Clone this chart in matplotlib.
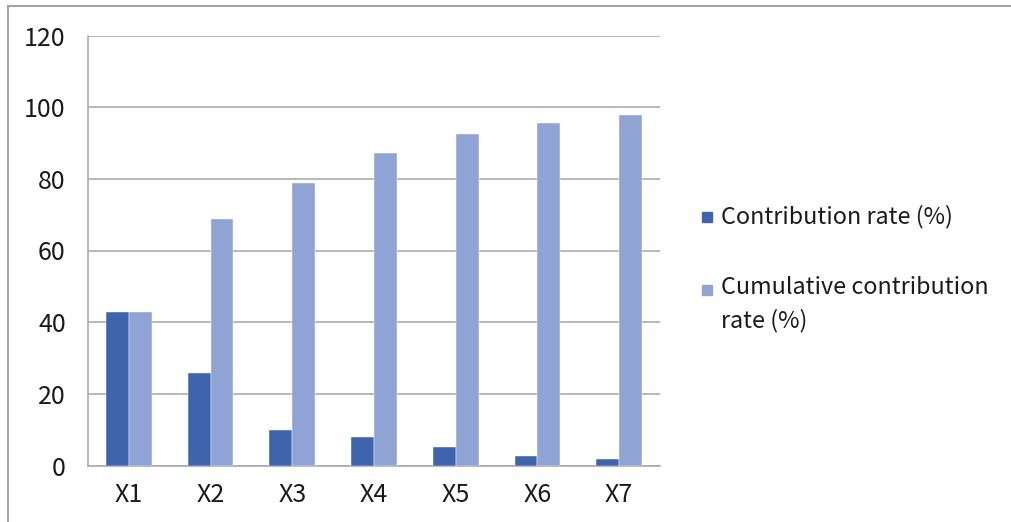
import matplotlib
matplotlib.use("Agg")
import matplotlib.pyplot as plt
from matplotlib.patches import Rectangle
from matplotlib.lines import Line2D
import numpy as np

plt.rcParams['font.family'] = ['Noto Sans CJK SC', 'DejaVu Sans']

categories = ["X1", "X2", "X3", "X4", "X5", "X6", "X7"]
contribution = [42.8, 25.7, 9.8, 7.9, 5.1, 2.7, 1.7]
cumulative = [42.8, 68.8, 78.8, 87.1, 92.4, 95.5, 97.7]
series_names = ["Contribution rate (%)", "Cumulative contribution\nrate (%)"]
yticks = [0, 20, 40, 60, 80, 100, 120]

DARK = "#3E64AD"
LIGHT = "#8FA4D5"
GRID = "#A6A6A6"
FS = 16.8

W, H = 1011, 522
fig = plt.figure(figsize=(W / 100, H / 100), dpi=100)
ax = fig.add_axes([88 / W, (H - 465.5) / H, 572 / W, 430 / H])

x = np.arange(len(categories))
bw = 0.28
ax.bar(x - bw / 2, contribution, bw, color=DARK, edgecolor="white", linewidth=0.3, zorder=3)
ax.bar(x + bw / 2, cumulative, bw, color=LIGHT, edgecolor="white", linewidth=0.3, zorder=3)

ax.set_xlim(-0.5, len(categories) - 0.5)
ax.set_ylim(0, 120)
ax.set_yticks(yticks)
ax.set_xticks(x)
ax.set_xticklabels(categories)
ax.tick_params(length=0, labelsize=18, colors="#1a1a1a")
ax.tick_params(axis="y", pad=16)
ax.tick_params(axis="x", pad=12)
ax.grid(axis="y", color=GRID, linewidth=1.1, zorder=0)
for s in ["top", "right"]:
    ax.spines[s].set_visible(False)
for s in ["left", "bottom"]:
    ax.spines[s].set_color(GRID)
    ax.spines[s].set_linewidth(1.1)

# outer chart border (only top and left edges fall inside the image)
fig.add_artist(Line2D([7.5 / W, 1.0], [1 - 5.5 / H, 1 - 5.5 / H], color="#A0A0A0", lw=1.4))
fig.add_artist(Line2D([7.5 / W, 7.5 / W], [0, 1 - 5.5 / H], color="#A0A0A0", lw=1.4))

# legend
sq = 10
for name, col, yc in zip(series_names, [DARK, LIGHT], [217, 290]):
    fig.add_artist(Rectangle((702 / W, (H - yc - sq / 2) / H), sq / W, sq / H,
                             transform=fig.transFigure, color=col))
    if "\n" in name:
        fig.text(721 / W, (H - yc + 14) / H, name, fontsize=FS, color="#1a1a1a",
                 va="top", ha="left", linespacing=1.5)
    else:
        fig.text(721 / W, (H - yc) / H, name, fontsize=FS, color="#1a1a1a",
                 va="center", ha="left")

fig.savefig("out.png", dpi=100)
